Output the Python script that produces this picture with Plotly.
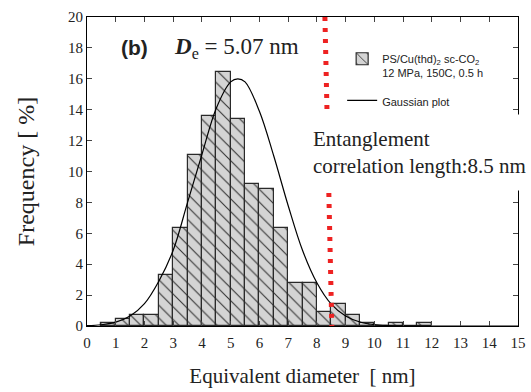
import plotly.graph_objects as go

# ---- data ----
bin_start = [0.5, 1.0, 1.5, 2.0, 2.5, 3.0, 3.5, 4.0, 4.5, 5.0, 5.5, 6.0, 6.5, 7.0, 7.5,
             8.0, 8.5, 9.0, 9.5, 10.0, 10.5, 11.0, 11.5]
frequency = [0.21, 0.43, 0.71, 0.71, 3.28, 6.32, 11.05, 13.62, 16.44, 13.38, 9.16, 8.9, 6.32, 2.8, 2.8,
             0.93, 1.42, 0.69, 0.21, 0.0, 0.21, 0.0, 0.21]
bin_width = 0.5

gauss_x = [0.0, 0.5, 1.0, 1.5, 2.0, 2.5, 3.0, 3.5, 4.0, 4.5, 5.0, 5.25, 5.5, 6.0, 6.5,
           7.0, 7.5, 8.0, 8.5, 9.0, 9.5, 10.0, 10.5, 11.0, 12.0, 13.0, 14.0, 15.0]
gauss_y = [0.02, 0.08, 0.25, 0.65, 1.45, 2.9, 4.9, 8.0, 11.1, 14.1, 15.8, 16.0, 15.8, 13.9, 11.0,
           7.8, 4.9, 2.8, 1.42, 0.65, 0.26, 0.09, 0.03, 0.01, 0.0, 0.0, 0.0, 0.0]

ent_line_x = [8.28, 8.52]
ent_line_y = [20, 0]

x_ticks = list(range(0, 16))
y_ticks = list(range(0, 21, 2))

serif = "Liberation Serif, Times New Roman, serif"
sans = "Liberation Sans, Arial, sans-serif"

fig = go.Figure()

fig.add_trace(go.Bar(
    x=bin_start, y=frequency, width=bin_width, offset=0,
    name="PS/Cu(thd)<sub>2</sub> sc-CO<sub>2</sub><br>12 MPa, 150C, 0.5 h",
    legendgroup="a",
    marker=dict(color="#d4d4d4",
                line=dict(color="#2a2a2a", width=1.2),
                pattern=dict(shape="\\", size=9, solidity=0.12,
                             fgcolor="#333333", bgcolor="#d4d4d4", fillmode="replace")),
))

fig.add_trace(go.Scatter(
    x=gauss_x, y=gauss_y, mode="lines", name="Gaussian plot", legendgroup="b",
    line=dict(color="black", width=1.2, shape="spline", smoothing=1.0),
))

fig.add_trace(go.Scatter(
    x=ent_line_x, y=ent_line_y, mode="lines", showlegend=False,
    line=dict(color="#ee2222", width=5, dash="4px,7px"),
))

fig.add_annotation(x=1.64, y=18.0, xref="x", yref="y", text="<b>(b)</b>",
                   showarrow=False, font=dict(family=sans, size=21, color="#222"))
fig.add_annotation(x=5.22, y=18.0, xref="x", yref="y",
                   text="<b><i>D</i></b><sub>e</sub> = 5.07 nm",
                   showarrow=False, font=dict(family=serif, size=23, color="#222"))
fig.add_annotation(x=7.41, y=11.2, xref="x", yref="y", xanchor="left",
                   text="Entanglement<br>correlation length:8.5 nm", align="left",
                   showarrow=False, bgcolor="white", borderpad=12,
                   font=dict(family=serif, size=21, color="#222"))

fig.update_layout(
    width=531, height=392,
    margin=dict(l=87, r=13, t=17, b=66),
    paper_bgcolor="white", plot_bgcolor="white",
    bargap=0,
    showlegend=True,
    legend=dict(x=0.592, y=0.909, xanchor="left", yanchor="top",
                bgcolor="rgba(0,0,0,0)", font=dict(family=sans, size=11, color="#222"),
                valign="top", tracegroupgap=10, traceorder="grouped"),
    xaxis=dict(range=[0, 15], tickvals=x_ticks, ticks="inside", ticklen=5,
               showline=True, linecolor="black", linewidth=1, mirror="ticks",
               showgrid=False, zeroline=False, automargin=False,
               ticklabelstandoff=3,
               tickfont=dict(family=serif, size=15, color="#222"),
               title=dict(text="Equivalent diameter  [ nm]", standoff=18,
                          font=dict(family=serif, size=21, color="#222"))),
    yaxis=dict(range=[0, 20], tickvals=y_ticks, ticks="inside", ticklen=5,
               showline=True, linecolor="black", linewidth=1, mirror="ticks",
               showgrid=False, zeroline=False, automargin=False,
               tickfont=dict(family=serif, size=15, color="#222"),
               title=dict(text="Frequency [ %]", standoff=26,
                          font=dict(family=serif, size=24, color="#222"))),
)

fig.write_html("out.html", config={"displayModeBar": False},
               post_script="document.body.style.margin='0';")
